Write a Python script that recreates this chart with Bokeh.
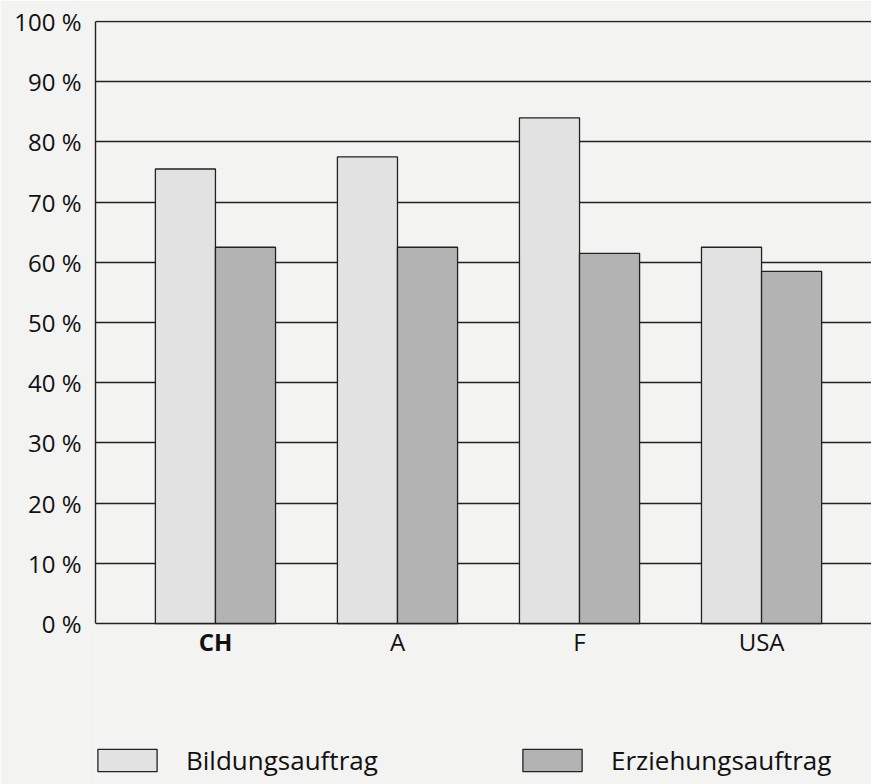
from bokeh.plotting import figure
from bokeh.models import ColumnDataSource, Range1d, FixedTicker, Legend, LegendItem
from bokeh.core.properties import value
from bokeh.transform import dodge
from bokeh.embed import file_html
from bokeh.resources import INLINE

# ---- data ----
countries = ["CH", "A", "F", "USA"]
country_styles = ["bold", "normal", "normal", "normal"]
bildung = [75.5, 77.5, 84.0, 62.5]
erziehung = [62.5, 62.5, 61.5, 58.5]
series_names = ["Bildungsauftrag", "Erziehungsauftrag"]
y_ticks = [0, 10, 20, 30, 40, 50, 60, 70, 80, 90, 100]
y_tick_labels = ["0 %", "10 %", "20 %", "30 %", "40 %", "50 %", "60 %", "70 %", "80 %", "90 %", "100 %"]

# ---- style ----
BG = "#f3f3f2"
LIGHT = "#e2e2e2"
DARK = "#b3b3b3"
INK = "#222222"
TXT = "#111111"
FONT = "Open Sans"

xpos = list(range(len(countries)))
src = ColumnDataSource(dict(x=xpos, bildung=bildung, erziehung=erziehung))
lab_src = ColumnDataSource(dict(x=xpos, y=[-0.3] * len(xpos), text=countries, style=country_styles))

# frame spans the bar area plus the strip below it (category labels and legend)
p = figure(width=871, height=784,
           x_range=Range1d(-0.659, 3.604), y_range=Range1d(-26.74, 100.17),
           x_axis_location=None,
           output_backend="svg", toolbar_location=None,
           min_border_left=95, min_border_top=20, min_border_bottom=0, min_border_right=0)
p.background_fill_color = BG
p.border_fill_color = BG
p.outline_line_color = None

r1 = p.vbar(x=dodge("x", -0.165), top="bildung", width=0.33, source=src,
            fill_color=LIGHT, line_color=INK, line_width=1.3)
r2 = p.vbar(x=dodge("x", 0.165), top="erziehung", width=0.33, source=src,
            fill_color=DARK, line_color=INK, line_width=1.3)

# grid
p.xgrid.visible = False
p.ygrid.ticker = FixedTicker(ticks=y_ticks)
p.ygrid.grid_line_color = INK
p.ygrid.grid_line_width = 1.4

# y axis (line only between 0 and 100 %)
p.yaxis.bounds = (0, 100)
p.yaxis.ticker = FixedTicker(ticks=y_ticks)
p.yaxis.major_label_overrides = {t: l for t, l in zip(y_ticks, y_tick_labels)}
p.yaxis.major_tick_out = 0
p.yaxis.major_tick_in = 0
p.yaxis.minor_tick_line_color = None
p.yaxis.major_label_standoff = 14
p.yaxis.axis_line_color = INK
p.yaxis.axis_line_width = 1.4
p.yaxis.major_label_text_font = FONT
p.yaxis.major_label_text_font_size = "24px"
p.yaxis.major_label_text_color = TXT

# category labels (CH in bold)
p.text(x="x", y="y", text="text", source=lab_src,
       text_font=value(FONT), text_font_size="24px", text_font_style="style",
       text_color=TXT, text_align="center", text_baseline="top")

# legends (Bokeh insets the swatch by 10 % on each side)
for i, (name, r) in enumerate(zip(series_names, [r1, r2])):
    leg = Legend(items=[LegendItem(label=name, renderers=[r])],
                 location=(-5 + i * 425, 6),
                 glyph_width=74, glyph_height=28, label_height=28, label_standoff=22,
                 label_text_font=FONT, label_text_font_size="26px", label_text_color=TXT,
                 padding=0, margin=0, border_line_color=None, background_fill_alpha=0)
    p.add_layout(leg)

open("out.html", "w").write(file_html(p, INLINE))
